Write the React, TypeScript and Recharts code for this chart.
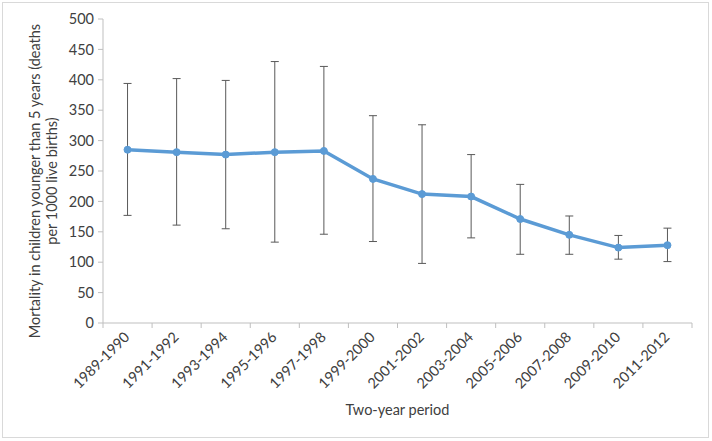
// Under-5 mortality by two-year period, with asymmetric confidence bars (Excel-style chart)
import { LineChart, Line, XAxis, YAxis, ErrorBar, Label } from "recharts";

const periods = [
  "1989-1990", "1991-1992", "1993-1994", "1995-1996", "1997-1998", "1999-2000",
  "2001-2002", "2003-2004", "2005-2006", "2007-2008", "2009-2010", "2011-2012",
];
const mortality = [285, 281, 277, 281, 283, 237, 212, 208, 171, 145, 124, 128];
const lower = [177, 161, 155, 133, 146, 134, 98, 140, 113, 113, 105, 101];
const upper = [394, 402, 399, 430, 422, 341, 326, 277, 228, 176, 144, 156];
const yTicks = [0, 50, 100, 150, 200, 250, 300, 350, 400, 450, 500];

const AXIS = "#bfbfbf";
const TEXT = "#404040";
const FONT = "Lato, 'Open Sans', sans-serif";
const FS = 14.5;

// x runs 0..12, each period sits in the middle of its slot
const data = periods.map((p, i) => ({
  x: i + 0.5,
  period: p,
  value: mortality[i],
  err: [mortality[i] - lower[i], upper[i] - mortality[i]],
}));
const xTicks = periods.flatMap((_, i) => [i, i + 0.5]).concat([periods.length]);

function PeriodTick(props: { x?: number; y?: number; payload?: { value: number } }) {
  const { x = 0, y = 0, payload } = props;
  const v = payload?.value ?? 0;
  if (Number.isInteger(v)) {
    // Excel puts tick marks between categories
    return <line x1={x} y1={y} x2={x} y2={y + 5} stroke={AXIS} />;
  }
  const label = periods[Math.floor(v)];
  return (
    <text
      x={x + 3}
      y={y + 15}
      transform={`rotate(-45 ${x + 3} ${y + 15})`}
      textAnchor="end"
      fontSize={FS}
      fontFamily={FONT}
      fill={TEXT}
    >
      {label}
    </text>
  );
}

function YTitle(props: { viewBox?: { x: number; y: number; width: number; height: number } }) {
  const vb = props.viewBox ?? { x: 0, y: 0, width: 0, height: 0 };
  const cy = vb.y + vb.height / 2 + 10;
  return (
    <g transform={`translate(0 ${cy}) rotate(-90)`} fontSize={FS} fontFamily={FONT} fill={TEXT}>
      <text x={0} y={40} textAnchor="middle">
        Mortality in children younger than 5 years (deaths
      </text>
      <text x={0} y={57} textAnchor="middle">
        per 1000 live births)
      </text>
    </g>
  );
}

export default function App() {
  return (
    <div style={{ position: "absolute", left: 0, top: 0, width: 712, height: 441, background: "#fff" }}>
      <div
        style={{
          position: "absolute",
          left: 2,
          top: 2,
          width: 705,
          height: 434,
          border: "1px solid #d9d9d9",
        }}
      />
      <LineChart
        width={712}
        height={441}
        data={data}
        margin={{ top: 19, right: 20, bottom: 0, left: 0 }}
        style={{ position: "absolute", left: 0, top: 0 }}
      >
        <XAxis
          dataKey="x"
          type="number"
          domain={[0, periods.length]}
          ticks={xTicks}
          interval={0}
          height={118}
          stroke={AXIS}
          tickLine={false}
          tickSize={0}
          tickMargin={0}
          tick={<PeriodTick />}
        >
          <Label
            value="Two-year period"
            position="insideBottom"
            offset={26}
            fontSize={FS}
            fontFamily={FONT}
            fill={TEXT}
          />
        </XAxis>
        <YAxis
          domain={[0, 500]}
          ticks={yTicks}
          interval={0}
          width={103}
          stroke={AXIS}
          tickSize={5}
          tickMargin={4}
          tick={{ fontSize: FS, fontFamily: FONT, fill: TEXT }}
        >
          <Label content={<YTitle />} />
        </YAxis>
        <Line
          dataKey="value"
          stroke="#5b9bd5"
          strokeWidth={3.5}
          dot={{ r: 3.5, fill: "#5b9bd5", stroke: "#5b9bd5", strokeWidth: 1 }}
          isAnimationActive={false}
        >
          <ErrorBar dataKey="err" direction="y" width={4} stroke="#595959" strokeWidth={1} />
        </Line>
      </LineChart>
    </div>
  );
}
